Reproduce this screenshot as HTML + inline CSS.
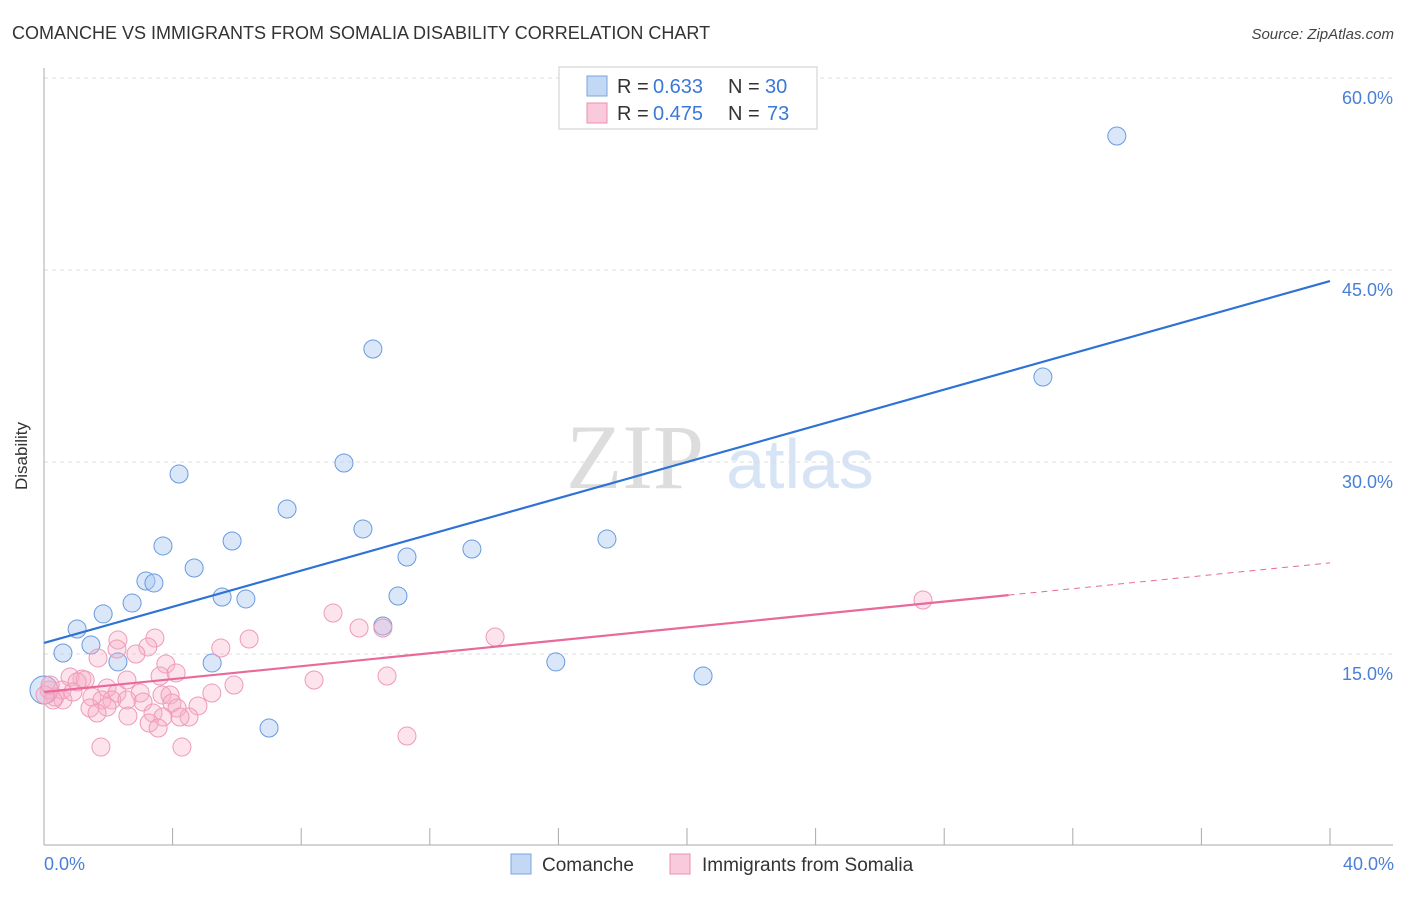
<!DOCTYPE html>
<html><head><meta charset="utf-8"><style>
body{margin:0;background:#fff;font-family:"Liberation Sans",sans-serif}
</style></head><body>
<svg width="1406" height="892" xmlns="http://www.w3.org/2000/svg" font-family="Liberation Sans, sans-serif">
<text x="12" y="39" font-size="18" fill="#333">COMANCHE VS IMMIGRANTS FROM SOMALIA DISABILITY CORRELATION CHART</text>
<text x="1394" y="39" font-size="15" fill="#444" text-anchor="end" font-style="italic">Source: ZipAtlas.com</text>
<text x="635" y="488" font-size="92" fill="#ddd" font-family="Liberation Serif, serif" text-anchor="middle">ZIP</text>
<text x="800" y="488" font-size="70" fill="#d7e4f5" text-anchor="middle">atlas</text>
<g id="grid"></g>
<line x1="44" y1="68" x2="44" y2="845" stroke="#aaa"/>
<line x1="44" y1="845" x2="1393" y2="845" stroke="#aaa"/>
<g id="marks"></g>
<text x="27" y="456" font-size="17" fill="#333" text-anchor="middle" transform="rotate(-90 27 456)">Disability</text>
<text x="44" y="870" font-size="18" fill="#4a7fd6">0.0%</text>
<text x="1394" y="870" font-size="18" fill="#4a7fd6" text-anchor="end">40.0%</text>
<g>
<rect x="559" y="67" width="258" height="62" fill="#fff" stroke="#ccc"/>
<rect x="587" y="76" width="20" height="20" fill="#c3d8f5" stroke="#7aa4e0"/>
<rect x="587" y="103" width="20" height="20" fill="#f9cadb" stroke="#ec8fb0"/>
<text x="617" y="93" font-size="20" fill="#333">R =</text><text x="653" y="93" font-size="20" fill="#3b78d8">0.633</text>
<text x="728" y="93" font-size="20" fill="#333">N =</text><text x="765" y="93" font-size="20" fill="#3b78d8">30</text>
<text x="617" y="120" font-size="20" fill="#333">R =</text><text x="653" y="120" font-size="20" fill="#3b78d8">0.475</text>
<text x="728" y="120" font-size="20" fill="#333">N =</text><text x="767" y="120" font-size="20" fill="#3b78d8">73</text>
</g>
<g>
<rect x="511" y="854" width="20" height="20" fill="#c3d8f5" stroke="#7aa4e0"/>
<text x="542" y="871" font-size="19" fill="#333">Comanche</text>
<rect x="670" y="854" width="20" height="20" fill="#f9cadb" stroke="#ec8fb0"/>
<text x="702" y="871" font-size="19" fill="#333">Immigrants from Somalia</text>
</g>
</svg>
<script>
const blueX=[33.37,10.23,31.07,4.20,9.33,7.56,9.92,5.85,3.70,17.51,13.31,11.29,4.67,3.17,3.42,2.74,5.54,6.28,11.01,1.84,1.03,10.54,1.46,0.59,2.30,5.23,15.92,20.50,7.00,0];
const blueY=[55.47,38.83,36.64,29.06,29.92,26.33,24.77,23.83,23.44,23.98,23.20,22.58,21.72,20.70,20.55,18.98,19.45,19.30,19.53,18.13,16.95,17.19,15.70,15.08,14.38,14.30,14.38,13.28,9.22,12.19];
const pinkX=[8.99,9.80,10.54,6.38,5.50,3.45,2.30,2.27,3.23,1.68,2.86,3.79,3.61,4.11,2.58,1.18,0.81,1.28,8.40,10.67,5.91,5.22,1.96,2.27,2.99,3.67,3.92,0.34,0.59,0.56,1.49,1.80,2.11,2.58,3.08,3.98,4.79,1.43,1.96,4.14,1.65,2.61,3.39,4.51,4.23,3.70,3.27,3.55,1.77,4.29,11.29,0.16,1.03,0.28,0.90,27.34,14.03,0.03,0.19];
const pinkY=[18.20,17.03,17.03,16.17,15.47,16.25,16.09,15.39,15.55,14.69,15.00,14.22,13.28,13.52,12.97,13.05,13.20,12.97,12.97,13.28,12.58,11.95,12.34,11.95,11.95,11.80,11.80,11.64,11.41,12.19,11.64,11.41,11.41,11.41,11.25,11.17,10.94,10.78,10.86,10.78,10.39,10.16,10.39,10.08,10.08,10.08,9.61,9.22,7.73,7.73,8.59,12.19,12.81,11.41,12.03,19.22,16.33,11.80,12.58];
const yTicks=[15,30,45,60];
const yTickLabels=["15.0%","30.0%","45.0%","60.0%"];
const xTicks=[0,4,8,12,16,20,24,28,32,36,40];
const blueLine=[15.86,0.707];
const pinkLine=[12.03,0.2523];
const X=v=>44+v/40*1286, Y=v=>846-v/15*192;
const NS="http://www.w3.org/2000/svg";
function mk(t,a,p){const e=document.createElementNS(NS,t);for(const k in a)e.setAttribute(k,a[k]);p.appendChild(e);return e;}
const gridG=document.getElementById('grid'),marksG=document.getElementById('marks');
yTicks.forEach((t,i)=>{
 const l=mk('line',{x1:44,x2:1393,y1:Y(t),y2:Y(t),stroke:'#ddd','stroke-dasharray':'4,4'},gridG);
 
 
 const tx=mk('text',{x:1393,y:Y(t)+26,'font-size':18,fill:'#4a7fd6','text-anchor':'end'},gridG);
 tx.textContent=yTickLabels[i];
 
 
});
const topGrid=mk('line',{x1:44,x2:1393,y1:78,y2:78,stroke:'#ddd','stroke-dasharray':'4,4'},gridG);


xTicks.forEach(t=>{
 const l=mk('line',{x1:X(t),x2:X(t),y1:828,y2:845,stroke:'#aaa'},gridG);
 
 
});
blueX.forEach((x,i)=>{
 const c=mk('circle',{cx:X(x),cy:Y(blueY[i]),r:i==blueX.length-1?14:9,fill:'rgba(170,202,242,0.45)',stroke:'#6a9ade','stroke-width':1},marksG);
 
 
});
pinkX.forEach((x,i)=>{
 const c=mk('circle',{cx:X(x),cy:Y(pinkY[i]),r:9,fill:'rgba(246,176,200,0.35)',stroke:'#ef9ab8','stroke-width':1},marksG);
 
 
});
const bl=mk('line',{x1:X(0),y1:Y(blueLine[0]),x2:X(40),y2:Y(blueLine[0]+40*blueLine[1]),stroke:'#2f72d6','stroke-width':2.2},marksG);


const pl=mk('line',{x1:X(0),y1:Y(pinkLine[0]),x2:X(30),y2:Y(pinkLine[0]+30*pinkLine[1]),stroke:'#e8699a','stroke-width':2.2},marksG);


const pd=mk('line',{x1:X(30),y1:Y(pinkLine[0]+30*pinkLine[1]),x2:X(40),y2:Y(pinkLine[0]+40*pinkLine[1]),stroke:'#e8699a','stroke-width':1,'stroke-dasharray':'6,5'},marksG);


</script>
</body></html>
